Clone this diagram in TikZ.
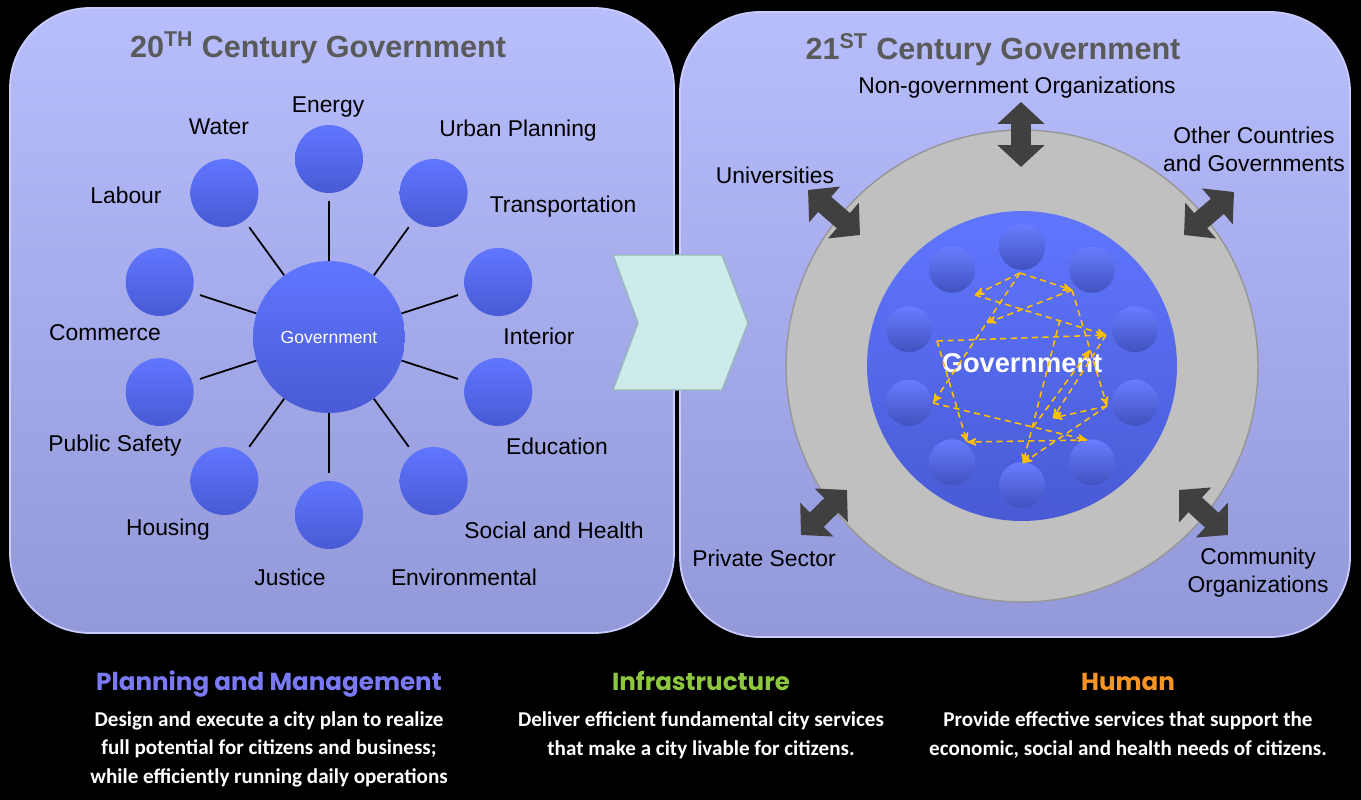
\documentclass[tikz,border=0pt]{standalone}
\usepackage{fontspec}
\setmainfont{Liberation Sans}
\newfontfamily\headfont{Poppins}
\newfontfamily\descfont{Carlito}
\usetikzlibrary{shapes,arrows,arrows.meta,positioning,calc}
\definecolor{paneltop}{RGB}{184,189,252}
\definecolor{panelbot}{RGB}{146,152,216}
\definecolor{panelrim}{RGB}{200,204,255}
\definecolor{circtop}{RGB}{96,118,255}
\definecolor{circbot}{RGB}{72,90,212}
\definecolor{titlegray}{RGB}{90,90,90}
\definecolor{ringgray}{RGB}{192,192,192}
\definecolor{ringedge}{RGB}{150,150,150}
\definecolor{arrowgray}{RGB}{64,64,64}
\definecolor{netyellow}{RGB}{255,192,0}
\definecolor{chevfill}{RGB}{205,235,234}
\definecolor{chevedge}{RGB}{150,185,185}
\definecolor{plancol}{RGB}{122,122,245}
\definecolor{infracol}{RGB}{141,198,63}
\definecolor{humancol}{RGB}{247,148,38}
\tikzset{
    panel/.style={
           rounded corners=1.6cm,
           top color=paneltop, bottom color=panelbot,
           draw=panelrim, line width=1pt
           },
    hub/.style={
           circle, inner sep=0pt,
           minimum size=3.04cm,
           top color=circtop, bottom color=circbot,
           text=white, font=\fontsize{10}{12}\selectfont
           },
    sat/.style={
           circle, inner sep=0pt,
           minimum size=1.36cm,
           top color=circtop, bottom color=circbot
           },
    spoke/.style={
           draw=black, line width=1pt,
           shorten >=0.16cm
           },
    lbl/.style={
           inner sep=0pt, align=center,
           font=\fontsize{13}{16}\selectfont
           },
    ttl/.style={
           inner sep=0pt, text=titlegray,
           font=\fontsize{17.4}{20}\selectfont\bfseries
           },
    ring/.style={
           circle, inner sep=0pt,
           minimum size=9.44cm,
           fill=ringgray, draw=ringedge, line width=0.8pt
           },
    core/.style={
           circle, inner sep=0pt,
           minimum size=6.2cm,
           top color=circtop, bottom color=circbot
           },
    bead/.style={
           circle, inner sep=0pt,
           minimum size=0.92cm,
           top color=circtop!95!white, bottom color=circbot!90!black
           },
    fat/.style={
           draw=arrowgray, line width=0.4cm,
           {Triangle[length=0.44cm,width=0.92cm]}-{Triangle[length=0.44cm,width=0.92cm]}
           },
    net/.style={
           draw=netyellow, line width=0.9pt,
           dash pattern=on 3.5pt off 2.5pt, ->
           },
    head/.style={
           inner sep=0pt, anchor=base,
           font=\headfont\fontsize{14}{17}\selectfont\bfseries
           },
    desc/.style={
           inner sep=0pt, anchor=base, align=center, text=white,
           font=\descfont\fontsize{12}{16.2}\selectfont\bfseries
           }
}

\begin{document}
\begin{tikzpicture}[x=0.02cm, y=-0.02cm, >=stealth']
   \fill[black] (0,0) rectangle (1361,800);
   \useasboundingbox (0,0) rectangle (1361,800);

   % panels
   \shade[panel] (10,8) rectangle (674,633);
   \shade[panel] (680,12) rectangle (1350,637);

   % chevron between the panels
   \filldraw[fill=chevfill, draw=chevedge, line width=0.8pt]
      (613,255) -- (722,255) -- (748,323) -- (722,390) -- (613,390) -- (638,323) -- cycle;

   % 20th century: hub and spokes
   \node[ttl] (ttl20) at (318,48) {20\textsuperscript{TH} Century Government};
   \node[hub] (hub) at (329,337) {Government};
   \foreach \a in {18,54,...,342} {
      \node[sat] (s\a) at ($(hub)+(\a:178)$) {};
      \draw[spoke] (hub) -- (s\a);
   }
   \node[lbl] (energy) at (328,107) {Energy};
   \node[lbl] (water) at (219,127) {Water};
   \node[lbl] (urban) at (518,131) {Urban Planning};
   \node[lbl] (labour) at (126,195) {Labour};
   \node[lbl] (transp) at (563,207) {Transportation};
   \node[lbl] (commerce) at (105,333) {Commerce};
   \node[lbl] (interior) at (539,336) {Interior};
   \node[lbl] (safety) at (115,446) {Public Safety};
   \node[lbl] (educ) at (557,446) {Education};
   \node[lbl] (housing) at (168,530) {Housing};
   \node[lbl] (social) at (554,530) {Social and Health};
   \node[lbl] (justice) at (290,577) {Justice};
   \node[lbl] (environ) at (464,577) {Environmental};

   % 21st century: ring, core, beads
   \node[ttl] (ttl21) at (993,50) {21\textsuperscript{ST} Century Government};
   \node[ring] (ring) at (1022,366) {};
   \node[core] (core) at (1022,366) {};
   \foreach \a in {18,54,...,342}
      \node[bead] (b\a) at ($(core)+(\a:119)$) {};
   \node[inner sep=0pt, text=white, font=\fontsize{15.5}{18}\selectfont\bfseries]
      (gov) at (1022,363) {Government};

   % tangled links inside the core
   \coordinate (nA) at (1020,273);
   \coordinate (nB) at (975,295);
   \coordinate (nC) at (1072,290);
   \coordinate (nD) at (937,341);
   \coordinate (nE) at (1106,335);
   \coordinate (nF) at (933,403);
   \coordinate (nG) at (1107,406);
   \coordinate (nH) at (967,442);
   \coordinate (nI) at (1087,440);
   \coordinate (nJ) at (1023,463);
   \coordinate (nK) at (987,323);
   \coordinate (nL) at (1090,350);
   \coordinate (nM) at (1053,418);
   \coordinate (nP) at (1060,320);
   \coordinate (nQ) at (1033,427);
   \foreach \p/\q in {nA/nB, nA/nC, nC/nK, nB/nE, nA/nF, nD/nE, nC/nG, nE/nM,
                      nD/nH, nF/nI, nG/nJ, nP/nJ, nI/nH, nG/nM, nQ/nL}
      \draw[net] (\p) -- (\q);

   % partners
   \coordinate (ngoA) at (1021,102);  \coordinate (ngoB) at (1021,167);
   \coordinate (uniA) at (808,190);   \coordinate (uniB) at (860,235);
   \coordinate (othA) at (1234,192);  \coordinate (othB) at (1184,235);
   \coordinate (prvA) at (847,490);   \coordinate (prvB) at (801,535);
   \coordinate (comA) at (1179,490);  \coordinate (comB) at (1228,535);
   \draw[fat] (ngoA) -- (ngoB);
   \draw[fat] (uniA) -- (uniB);
   \draw[fat] (othA) -- (othB);
   \draw[fat] (prvA) -- (prvB);
   \draw[fat] (comA) -- (comB);
   \node[lbl] (ngo) at (1017,88) {Non-government Organizations};
   \node[lbl] (uni) at (775,175) {Universities};
   \node[lbl] (oth) at (1254,149) {Other Countries\\and Governments};
   \node[lbl] (prv) at (764,558) {Private Sector};
   \node[lbl] (com) at (1258,573) {Community\\Organizations};

   % bottom captions
   \node[head, text=plancol] (plan) at (269,690) {Planning and Management};
   \node[head, text=infracol] (infra) at (701,690) {Infrastructure};
   \node[head, text=humancol] (human) at (1128,690) {Human};
   \node[desc] (plantxt) at (269,783) {Design and execute a city plan to realize\\full potential for citizens and business;\\while efficiently running daily operations};
   \node[desc] (infratxt) at (701,755) {Deliver efficient fundamental city services\\that make a city livable for citizens.};
   \node[desc] (humantxt) at (1128,755) {Provide effective services that support the\\economic, social and health needs of citizens.};
\end{tikzpicture}
\end{document}
